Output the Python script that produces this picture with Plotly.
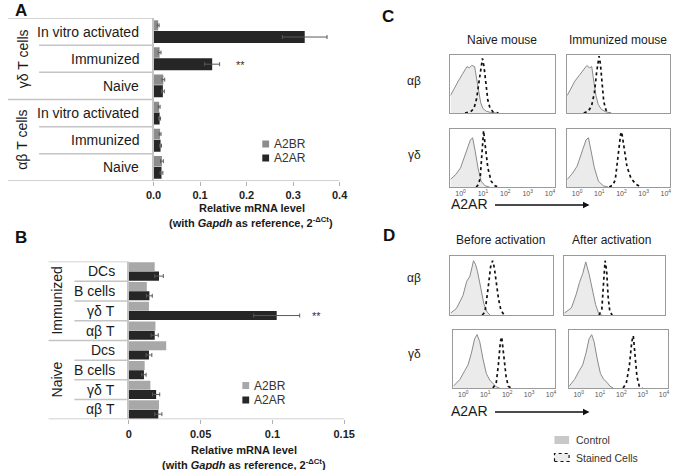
import plotly.graph_objects as go

W, H = 689, 470
FONT = "Arial, Liberation Sans, sans-serif"
TXT = "#1a1a1a"


def px(x):
    return x / W


def py(y):
    return 1 - y / H


# ---------------- Panel A data ----------------
a_groups = ["αβ T cells", "γδ T cells"]
a_labels = ["Naive", "Immunized", "In vitro activated",
            "Naive", "Immunized", "In vitro activated"]
a_a2br = [0.018, 0.014, 0.012, 0.021, 0.013, 0.010]
a_a2br_err = [0.003, 0.002, 0.002, 0.003, 0.003, 0.002]
a_a2ar = [0.017, 0.015, 0.013, 0.020, 0.126, 0.325]
a_a2ar_err = [0.003, 0.002, 0.002, 0.003, 0.016, 0.048]
a_ticks = [0.0, 0.1, 0.2, 0.3, 0.4]
a_tick_labels = ["0.0", "0.1", "0.2", "0.3", "0.4"]

# ---------------- Panel B data ----------------
b_groups = ["Naive", "Immunized"]
b_labels = ["αβ T", "γδ T", "B cells", "Dcs",
            "αβ T", "γδ T", "B cells", "DCs"]
b_a2br = [0.021, 0.015, 0.011, 0.026, 0.0185, 0.014, 0.0125, 0.018]
b_a2ar = [0.0205, 0.019, 0.0105, 0.014, 0.018, 0.103, 0.0143, 0.021]
b_a2ar_err = [0.0025, 0.0025, 0.0015, 0.002, 0.0025, 0.016, 0.002, 0.003]
b_ticks = [0, 0.05, 0.1, 0.15]
b_tick_labels = ["0", "0.05", "0.1", "0.15"]

# ---------------- Panel C / D histogram data (log10 fluorescence, % of max) ----------------
hist_ticks = [0, 1, 2, 3, 4]
hist_tick_labels = ["10<sup>0</sup>", "10<sup>1</sup>", "10<sup>2</sup>", "10<sup>3</sup>", "10<sup>4</sup>"]

c_ab_naive_ctrl_x = [-0.45, -0.3, -0.1, 0.1, 0.29, 0.4, 0.5, 0.63, 0.72, 0.8, 0.9, 1.0, 1.15, 1.35, 1.6]
c_ab_naive_ctrl_y = [30, 42, 55, 68, 80, 78, 82, 80, 60, 35, 18, 8, 3, 1, 0]
c_ab_naive_stain_x = [0.2, 0.45, 0.6, 0.72, 0.85, 0.93, 0.98, 1.05, 1.13, 1.22, 1.32, 1.45, 1.7]
c_ab_naive_stain_y = [0, 2, 8, 25, 60, 85, 94, 80, 50, 22, 8, 2, 0]

c_ab_imm_ctrl_x = [-0.45, -0.3, -0.1, 0.1, 0.3, 0.44, 0.55, 0.66, 0.75, 0.85, 0.95, 1.1, 1.3, 1.55]
c_ab_imm_ctrl_y = [30, 42, 55, 65, 75, 82, 78, 80, 55, 30, 15, 6, 2, 0]
c_ab_imm_stain_x = [0.3, 0.5, 0.65, 0.78, 0.88, 0.95, 0.99, 1.05, 1.12, 1.2, 1.3, 1.45]
c_ab_imm_stain_y = [0, 3, 12, 35, 70, 92, 98, 85, 50, 20, 5, 0]

c_gd_naive_ctrl_x = [-0.45, -0.2, 0.0, 0.22, 0.35, 0.44, 0.54, 0.6, 0.66, 0.78, 0.92, 1.1, 1.3]
c_gd_naive_ctrl_y = [13, 22, 33, 56, 70, 81, 85, 75, 61, 33, 10, 2, 0]
c_gd_naive_stain_x = [0.7, 0.8, 0.88, 0.95, 1.0, 1.03, 1.1, 1.22, 1.37, 1.54, 1.7]
c_gd_naive_stain_y = [0, 4, 16, 61, 90, 97, 73, 33, 10, 2, 0]

c_gd_imm_ctrl_x = [-0.45, -0.2, 0.0, 0.29, 0.4, 0.51, 0.63, 0.78, 0.96, 1.18, 1.4]
c_gd_imm_ctrl_y = [13, 24, 36, 67, 81, 85, 61, 33, 10, 2, 0]
c_gd_imm_stain_x = [1.45, 1.6, 1.72, 1.84, 1.96, 2.01, 2.13, 2.25, 2.43, 2.65, 2.87]
c_gd_imm_stain_y = [0, 3, 12, 50, 90, 95, 65, 35, 15, 5, 0]

d_ab_before_ctrl_x = [-0.45, -0.18, 0.12, 0.29, 0.44, 0.52, 0.6, 0.7, 0.78, 0.93, 1.07, 1.22, 1.36]
d_ab_before_ctrl_y = [3, 11, 33, 57, 66, 80, 92, 85, 74, 46, 19, 5, 0]
d_ab_before_stain_x = [1.0, 1.12, 1.26, 1.38, 1.47, 1.55, 1.62, 1.74, 1.85, 2.0]
d_ab_before_stain_y = [0, 5, 44, 82, 92, 80, 60, 27, 8, 0]

d_ab_after_ctrl_x = [-0.45, -0.12, 0.1, 0.25, 0.4, 0.54, 0.69, 0.84, 0.99, 1.13, 1.28]
d_ab_after_ctrl_y = [3, 12, 35, 55, 70, 90, 70, 45, 18, 3, 0]
d_ab_after_stain_x = [1.15, 1.28, 1.35, 1.43, 1.5, 1.57, 1.65, 1.76]
d_ab_after_stain_y = [0, 10, 50, 92, 75, 30, 5, 0]

d_gd_before_ctrl_x = [-0.45, -0.15, 0.07, 0.22, 0.37, 0.52, 0.63, 0.75, 0.9, 1.05, 1.2, 1.35, 1.5, 1.65]
d_gd_before_ctrl_y = [3, 15, 30, 40, 60, 85, 92, 80, 50, 25, 14, 8, 2, 0]
d_gd_before_stain_x = [1.35, 1.5, 1.6, 1.69, 1.75, 1.84, 1.95, 2.05, 2.17]
d_gd_before_stain_y = [0, 8, 40, 80, 88, 60, 20, 3, 0]

d_gd_after_ctrl_x = [-0.45, -0.19, 0.03, 0.19, 0.34, 0.49, 0.61, 0.72, 0.87, 1.02, 1.17, 1.32, 1.47, 1.62]
d_gd_after_ctrl_y = [3, 15, 30, 40, 60, 85, 92, 80, 50, 25, 15, 10, 3, 0]
d_gd_after_stain_x = [2.08, 2.23, 2.38, 2.49, 2.56, 2.64, 2.73, 2.84, 2.99]
d_gd_after_stain_y = [0, 8, 40, 80, 90, 60, 20, 3, 0]

HIST_RANGE = [-0.45, 4.2]

C_A2BR_A = "#8c8c8c"
C_A2BR_B = "#a8a8a8"
C_A2AR = "#262626"
LINE = "#c4c4c4"
ERR = "#5a5a5a"

fig = go.Figure()

# ---------------- Panel A bars ----------------
a_pos = list(range(len(a_labels)))
fig.add_trace(go.Bar(x=a_a2ar, y=a_pos, orientation="h", width=0.44, offset=-0.42,
                     marker=dict(color=C_A2AR, line=dict(width=0)),
                     error_x=dict(type="data", array=a_a2ar_err, color=ERR, thickness=1, width=2),
                     xaxis="x", yaxis="y", showlegend=False, name="A2AR"))
fig.add_trace(go.Bar(x=a_a2br, y=a_pos, orientation="h", width=0.38, offset=0.04,
                     marker=dict(color=C_A2BR_A, line=dict(width=0)),
                     error_x=dict(type="data", array=a_a2br_err, color=ERR, thickness=1, width=2),
                     xaxis="x", yaxis="y", showlegend=False, name="A2BR"))

# ---------------- Panel B bars ----------------
b_pos = list(range(len(b_labels)))
fig.add_trace(go.Bar(x=b_a2ar, y=b_pos, orientation="h", width=0.46, offset=-0.47,
                     marker=dict(color=C_A2AR, line=dict(width=0)),
                     error_x=dict(type="data", array=b_a2ar_err, color=ERR, thickness=1, width=2),
                     xaxis="x2", yaxis="y2", showlegend=False, name="A2AR"))
fig.add_trace(go.Bar(x=b_a2br, y=b_pos, orientation="h", width=0.46, offset=0.0,
                     marker=dict(color=C_A2BR_B, line=dict(width=0)),
                     xaxis="x2", yaxis="y2", showlegend=False, name="A2BR"))

layout = dict(
    width=W, height=H,
    margin=dict(l=0, r=0, t=0, b=0),
    paper_bgcolor="white", plot_bgcolor="white",
    font=dict(family=FONT, color=TXT),
    showlegend=False,
    xaxis=dict(domain=[px(149.7), px(341)], range=[0, 0.4], anchor="y",
               tickvals=a_ticks, ticktext=a_tick_labels, ticks="outside", ticklen=4,
               tickcolor="#b0b0b0", showline=False, showgrid=False, zeroline=False,
               tickfont=dict(size=11, color="#222", weight="bold"), fixedrange=True),
    yaxis=dict(domain=[py(181), py(18)], range=[-0.5, 5.5], anchor="x",
               showticklabels=False, showgrid=False, zeroline=False,
               showline=True, linecolor=LINE, linewidth=1.5, ticks="", fixedrange=True),
    xaxis2=dict(domain=[px(124.3), px(345.7)], range=[0, 0.15], anchor="y2",
                tickvals=b_ticks, ticktext=b_tick_labels, ticks="outside", ticklen=4,
                tickcolor="#b0b0b0", showline=False, showgrid=False, zeroline=False,
                tickfont=dict(size=11, color="#222", weight="bold"), fixedrange=True),
    yaxis2=dict(domain=[py(419.3), py(261.5)], range=[-0.5, 7.5], anchor="x2",
                showticklabels=False, showgrid=False, zeroline=False,
                showline=True, linecolor=LINE, linewidth=1.5, ticks="", fixedrange=True),
)

# ---------------- Histograms ----------------
hist_panels = [
    (c_ab_naive_ctrl_x, c_ab_naive_ctrl_y, c_ab_naive_stain_x, c_ab_naive_stain_y, (455, 562), (55, 113), False),
    (c_ab_imm_ctrl_x, c_ab_imm_ctrl_y, c_ab_imm_stain_x, c_ab_imm_stain_y, (575, 681), (55, 113), False),
    (c_gd_naive_ctrl_x, c_gd_naive_ctrl_y, c_gd_naive_stain_x, c_gd_naive_stain_y, (455, 562), (129, 187), True),
    (c_gd_imm_ctrl_x, c_gd_imm_ctrl_y, c_gd_imm_stain_x, c_gd_imm_stain_y, (575, 681), (129, 187), True),
    (d_ab_before_ctrl_x, d_ab_before_ctrl_y, d_ab_before_stain_x, d_ab_before_stain_y, (455, 560), (256, 315), False),
    (d_ab_after_ctrl_x, d_ab_after_ctrl_y, d_ab_after_stain_x, d_ab_after_stain_y, (572, 676), (256, 315), False),
    (d_gd_before_ctrl_x, d_gd_before_ctrl_y, d_gd_before_stain_x, d_gd_before_stain_y, (458, 563), (330, 388), True),
    (d_gd_after_ctrl_x, d_gd_after_ctrl_y, d_gd_after_stain_x, d_gd_after_stain_y, (577, 679), (330, 388), True),
]

for n, (cx, cy, sx, sy, dx, dy, lab) in enumerate(hist_panels, start=3):
    xa, ya = f"x{n}", f"y{n}"
    fig.add_trace(go.Scatter(x=cx, y=cy, mode="lines", fill="tozeroy", fillcolor="#ebebeb",
                             line=dict(color="#8a8a8a", width=1), xaxis=xa, yaxis=ya,
                             showlegend=False, hoverinfo="skip"))
    fig.add_trace(go.Scatter(x=sx, y=sy, mode="lines",
                             line=dict(color="#111111", width=1.7, dash="dot"), xaxis=xa, yaxis=ya,
                             showlegend=False, hoverinfo="skip"))
    layout[f"xaxis{n}"] = dict(domain=[px(dx[0]), px(dx[1])], range=HIST_RANGE, anchor=ya,
                               showline=True, mirror=True, linecolor="#9a9a9a", linewidth=1,
                               showgrid=False, zeroline=False, ticks="",
                               tickvals=hist_ticks, ticktext=hist_tick_labels,
                               showticklabels=lab, tickfont=dict(size=7, color="#555"),
                               fixedrange=True)
    layout[f"yaxis{n}"] = dict(domain=[py(dy[1]), py(dy[0])], range=[0, 100], anchor=xa,
                               showline=True, mirror=True, linecolor="#9a9a9a", linewidth=1,
                               showgrid=False, zeroline=False, showticklabels=False, ticks="",
                               fixedrange=True)

fig.update_layout(**layout)

shapes = []
annotations = []


def hline(x0, x1, y, yref):
    shapes.append(dict(type="line", xref="paper", yref=yref, x0=px(x0), x1=px(x1), y0=y, y1=y,
                       line=dict(color=LINE, width=1.5)))


def text(t, x, y, size, xanchor="center", yanchor="middle", bold=False, angle=0, color=TXT):
    annotations.append(dict(text=t, x=px(x), y=py(y), xref="paper", yref="paper",
                            xanchor=xanchor, yanchor=yanchor, showarrow=False, textangle=angle,
                            font=dict(size=size, color=color, family=FONT,
                                      weight="bold" if bold else "normal")))


# ----- Panel A table lines and labels -----
n_a = len(a_labels)
hline(0, 149.7, n_a - 0.5, "y")
for i in range(n_a - 1):
    start = 0 if (i + 1) % 3 == 0 else 32
    hline(start, 149.7, i + 0.5, "y")
hline(0, 341, -0.5, "y")
for i, lab in enumerate(a_labels):
    annotations.append(dict(text=lab, x=px(137), y=i, xref="paper", yref="y", xanchor="right",
                            yanchor="middle", showarrow=False,
                            font=dict(size=14, color=TXT, family=FONT)))
for g, name in enumerate(a_groups):
    annotations.append(dict(text=name, x=px(15), y=g * 3 + 1, xref="paper", yref="y",
                            xanchor="center", yanchor="middle", showarrow=False, textangle=-90,
                            font=dict(size=14, color=TXT, family=FONT)))

# ----- Panel B table lines and labels -----
n_b = len(b_labels)
hline(41.7, 124.3, n_b - 0.5, "y2")
for i in range(n_b - 1):
    start = 41.7 if (i + 1) % 4 == 0 else 68.3
    hline(start, 124.3, i + 0.5, "y2")
hline(41.7, 345.7, -0.5, "y2")
for i, lab in enumerate(b_labels):
    annotations.append(dict(text=lab, x=px(112), y=i, xref="paper", yref="y2", xanchor="right",
                            yanchor="middle", showarrow=False,
                            font=dict(size=14, color=TXT, family=FONT)))
for g, name in enumerate(b_groups):
    annotations.append(dict(text=name, x=px(50), y=g * 4 + 1.5, xref="paper", yref="y2",
                            xanchor="center", yanchor="middle", showarrow=False, textangle=-90,
                            font=dict(size=14, color=TXT, family=FONT)))

# stars
annotations.append(dict(text="**", x=0.186, y=3.78, xref="x", yref="y", showarrow=False,
                        xanchor="center", yanchor="middle", font=dict(size=11, color="#333", family=FONT)))
annotations.append(dict(text="**", x=0.1305, y=4.72, xref="x2", yref="y2", showarrow=False,
                        xanchor="center", yanchor="middle", font=dict(size=11, color="#333", family=FONT)))

# axis titles
sub = "(with <i>Gapdh</i> as reference, 2<sup>-ΔCt</sup>)"
text("Relative mRNA level", 251, 208, 11, bold=True)
text(sub, 250, 221.5, 11, bold=True)
text("Relative mRNA level", 243, 450, 11, bold=True)
text(sub, 243, 463.5, 11, bold=True)


# legends (A and B)
def legend_item(x, y, color, label, size=12):
    shapes.append(dict(type="rect", xref="paper", yref="paper", x0=px(x), x1=px(x + 7),
                       y0=py(y + 3.5), y1=py(y - 3.5), fillcolor=color, line=dict(width=0)))
    text(label, x + 9.5, y, size, xanchor="left", color="#333")


legend_item(261.5, 144, C_A2BR_A, "A2BR")
legend_item(261.5, 158, C_A2AR, "A2AR")
legend_item(241, 385.5, C_A2BR_B, "A2BR")
legend_item(241, 400, C_A2AR, "A2AR")

# panel letters
text("A", 5, 10, 17, xanchor="left", bold=True, color="#111")
text("B", 5, 237, 17, xanchor="left", bold=True, color="#111")
text("C", 383, 16, 17, xanchor="left", bold=True, color="#111")
text("D", 384, 236, 17, xanchor="left", bold=True, color="#111")

# C / D titles and row labels
text("Naive mouse", 508, 40, 12)
text("Immunized mouse", 627, 40, 12)
text("αβ", 418, 81, 12)
text("γδ", 418, 155, 12)
text("Before activation", 506, 240, 12)
text("After activation", 621, 240, 12)
text("αβ", 418, 278, 12)
text("γδ", 418, 354, 12)

# A2AR axis labels with arrows
for ylab in (204, 411):
    text("A2AR", 454, ylab, 14, xanchor="left")
    annotations.append(dict(text="", x=px(598), y=py(ylab + 1), xref="paper", yref="paper",
                            ax=-96, ay=0, showarrow=True, arrowhead=2, arrowsize=1,
                            arrowwidth=1.3, arrowcolor="#111"))

# D legend
shapes.append(dict(type="rect", xref="paper", yref="paper", x0=px(562), x1=px(577),
                   y0=py(444), y1=py(436), fillcolor="#c8c8c8", line=dict(width=0)))
text("Control", 582, 440, 10.5, xanchor="left", color="#333")
shapes.append(dict(type="rect", xref="paper", yref="paper", x0=px(562), x1=px(577),
                   y0=py(461.5), y1=py(453.5), fillcolor="#ececec",
                   line=dict(color="#111", width=1.2, dash="dot")))
text("Stained Cells", 582, 457.5, 10.5, xanchor="left", color="#333")

fig.update_layout(shapes=shapes, annotations=annotations)

fig.write_html("out.html", config={"displayModeBar": False},
               post_script="document.body.style.margin='0';document.body.style.padding='0';")
